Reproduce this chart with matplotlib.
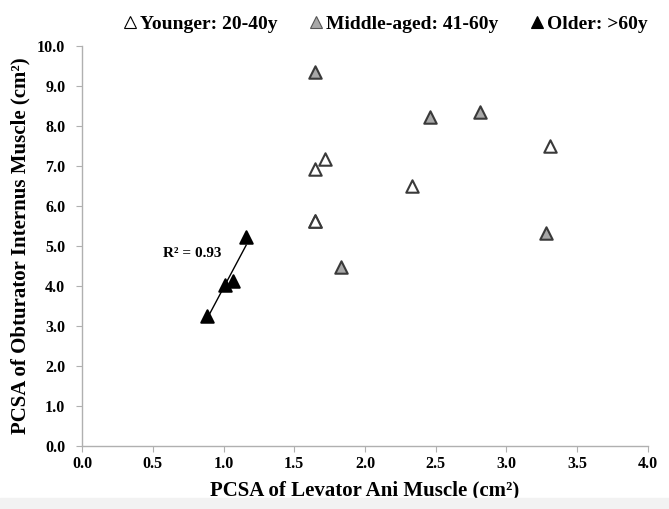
import numpy as np
import matplotlib.pyplot as plt
from matplotlib.lines import Line2D
from matplotlib.patches import Rectangle

# values
young_x = [1.65, 1.72, 1.65, 2.33, 3.31, 1.65]
young_y = [6.93, 7.17, 5.62, 6.50, 7.50, 5.62]
middle_x = [1.65, 2.46, 2.81, 3.28, 1.83]
middle_y = [9.35, 8.22, 8.35, 5.32, 4.47]
older_x = [0.88, 1.01, 1.07, 1.16]
older_y = [3.25, 4.03, 4.12, 5.22]

x_ticks = [0.0, 0.5, 1.0, 1.5, 2.0, 2.5, 3.0, 3.5, 4.0]
y_ticks = [0.0, 1.0, 2.0, 3.0, 4.0, 5.0, 6.0, 7.0, 8.0, 9.0, 10.0]

group_labels = ['Younger: 20-40y', 'Middle-aged: 41-60y', 'Older: >60y']
group_fill = ['white', '#a8a8a8', 'black']

plt.rcParams['font.family'] = ['Liberation Serif', 'DejaVu Serif']
plt.rcParams['font.weight'] = 'bold'

fig = plt.figure(figsize=(6.69, 5.09), dpi=100)
# faint grey strip along the bottom edge of the reference
fig.patches.append(Rectangle((0, 0), 1, 0.021, transform=fig.transFigure, color='#f2f2f2', zorder=0))
ax = fig.add_axes([0.1226, 0.1238, 0.846, 0.7858])

edge = '#3a3a3a'
ax.scatter(young_x, young_y, marker='^', s=80, facecolor=group_fill[0], edgecolor=edge, linewidth=1.5, zorder=3)
ax.scatter(middle_x, middle_y, marker='^', s=80, facecolor=group_fill[1], edgecolor=edge, linewidth=1.5, zorder=3)
ax.scatter(older_x, older_y, marker='^', s=80, facecolor=group_fill[2], edgecolor='black', linewidth=1.5, zorder=3)

# linear trendline for the older group
k, b = np.polyfit(older_x, older_y, 1)
xl = np.array([min(older_x), max(older_x)])
ax.plot(xl, k * xl + b, color='black', linewidth=1, zorder=2)
ax.text(0.78, 4.8, 'R² = 0.93', ha='center', va='center', fontsize=11, fontweight='bold')

ax.set_xlim(0, 4.0)
ax.set_ylim(0, 10.0)
ax.set_xticks(x_ticks)
ax.set_yticks(y_ticks)
ax.set_xticklabels([f'{v:.1f}' for v in x_ticks])
ax.set_yticklabels([f'{v:.1f}' for v in y_ticks])
ax.tick_params(axis='both', direction='out', length=4, color='#b0b0b0', labelsize=11.5)
ax.tick_params(axis='x', pad=3)
ax.tick_params(axis='y', pad=8)

for s in ['top', 'right']:
    ax.spines[s].set_visible(False)
for s in ['left', 'bottom']:
    ax.spines[s].set_color('#b0b0b0')
    ax.spines[s].set_linewidth(1)

ax.set_xlabel('PCSA of Levator Ani Muscle (cm²)', fontsize=15, fontweight='bold', labelpad=6)
ax.set_ylabel('PCSA of Obturator Internus Muscle (cm²)', fontsize=15, fontweight='bold', labelpad=5)

handles = [Line2D([], [], linestyle='none', marker='^', markersize=8.5, markerfacecolor=group_fill[0],
                  markeredgecolor='black', markeredgewidth=0.8),
           Line2D([], [], linestyle='none', marker='^', markersize=8.5, markerfacecolor=group_fill[1],
                  markeredgecolor='#555555', markeredgewidth=0.8),
           Line2D([], [], linestyle='none', marker='^', markersize=8.5, markerfacecolor=group_fill[2],
                  markeredgecolor='black', markeredgewidth=0.8)]
fig.legend(handles, group_labels, loc='upper center', bbox_to_anchor=(0.574, 1.005), ncol=3, frameon=False,
           fontsize=14, handletextpad=0.0, columnspacing=1.5, handlelength=1.0)

fig.savefig('out.png', dpi=100)
